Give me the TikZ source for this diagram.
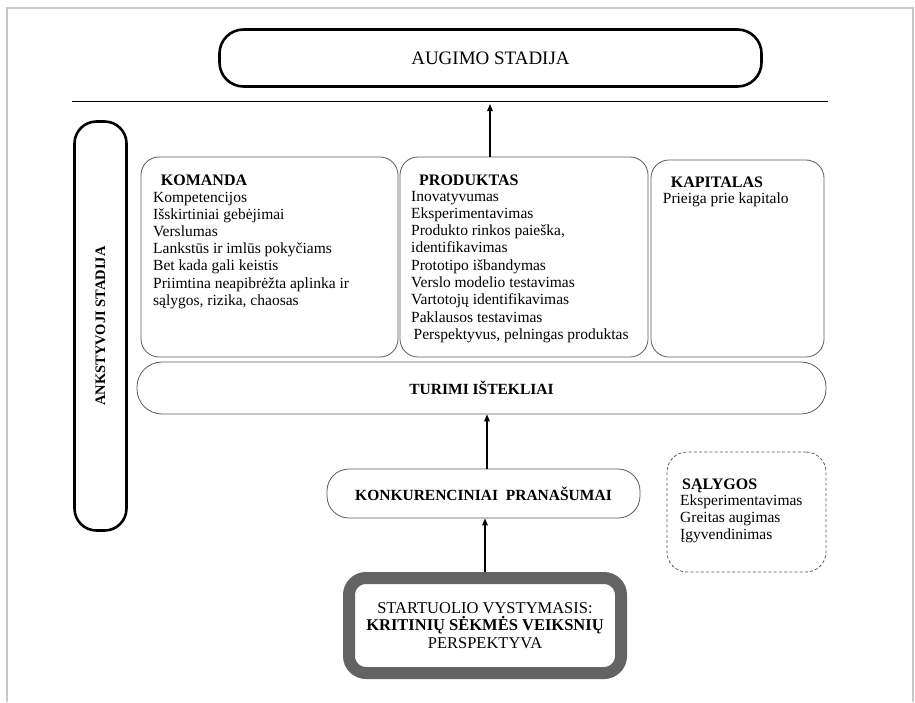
\documentclass[tikz,border=0pt]{standalone}
\usepackage{fontspec}
\setmainfont{Liberation Serif}
\usetikzlibrary{arrows.meta}
\definecolor{cardline}{HTML}{5A5A5A}
\definecolor{thickgray}{HTML}{636363}
\definecolor{framegray}{HTML}{C8C8C8}
\begin{document}
\begin{tikzpicture}[x=1pt,y=-1pt,
  stage/.style={draw=black, line width=2.6pt, rounded corners=24pt, inner sep=0pt},
  card/.style={draw=cardline, line width=0.8pt, rounded corners=18pt, inner sep=0pt},
  body/.style={anchor=base west, inner sep=0pt, font=\fontsize{15.5}{17.3}\selectfont},
  head/.style={anchor=base west, inner sep=0pt, font=\fontsize{16}{18}\selectfont\bfseries},
  boldlabel/.style={font=\fontsize{15.5}{17.3}\selectfont\bfseries},
  arr/.style={-{Triangle[length=7pt,width=5.5pt]}, line width=1.3pt},
  frame/.style={draw=framegray, line width=1.5pt}
]
\useasboundingbox (0,0) rectangle (915,702);
% page frame, open at the bottom
\draw[frame] (7,702) -- (7,8) -- (913,8) -- (913,702);

% growth stage and divider
\node[stage, minimum width=542pt, minimum height=57pt,
      font=\fontsize{19}{21}\selectfont] (grow) at (490.5,58) {AUGIMO STADIJA};
\coordinate (divL) at (72,101);
\coordinate (divR) at (828,101);
\draw[line width=0.8pt] (divL) -- (divR);

% early stage column
\node[stage, rotate=90, rounded corners=22pt, minimum width=409pt, minimum height=52pt,
      font=\fontsize{14.5}{16}\selectfont\bfseries] (early) at (100.5,326) {ANKSTYVOJI STADIJA};

% resource cards
\node[card, minimum width=257pt, minimum height=200pt] (team) at (269.5,257) {};
\node[card, minimum width=248pt, minimum height=200pt] (prod) at (524,257) {};
\node[card, minimum width=173pt, minimum height=197pt] (cap) at (737.5,258.5) {};

\node[head] (team-h) at (160.7,185) {KOMANDA};
\foreach \t [count=\i from 0] in {Kompetencijos, Išskirtiniai gebėjimai, Verslumas,
    Lankstūs ir imlūs pokyčiams, Bet kada gali keistis,
    Priimtina neapibrėžta aplinka ir, {sąlygos, rizika, chaosas}}
  \node[body] (team-\i) at (153,{202+17.2*\i}) {\t};

\node[head] (prod-h) at (419,185) {PRODUKTAS};
\foreach \t [count=\i from 0] in {Inovatyvumas, Eksperimentavimas, {Produkto rinkos paieška,},
    identifikavimas, Prototipo išbandymas, Verslo modelio testavimas,
    Vartotojų identifikavimas, Paklausos testavimas}
  \node[body] (prod-\i) at (411,{201+17.3*\i}) {\t};
\node[body] (prod-8) at (413.5,339.4) {Perspektyvus, pelningas produktas};

\node[head] (cap-h) at (670.7,187.3) {KAPITALAS};
\node[body] (cap-0) at (662.7,203.3) {Prieiga prie kapitalo};

% available resources
\node[card, rounded corners=25pt, minimum width=689pt, minimum height=52pt, boldlabel]
  (res) at (481.5,388) {TURIMI IŠTEKLIAI};

% competitive advantages
\node[card, rounded corners=22pt, minimum width=313pt, minimum height=49pt, boldlabel]
  (adv) at (483.5,493.5) {KONKURENCINIAI\ \ PRANAŠUMAI};

% conditions
\node[card, dashed, dash pattern=on 3pt off 2.2pt, rounded corners=20pt,
      minimum width=159pt, minimum height=120pt] (cond) at (746.5,512) {};
\node[head] (cond-h) at (682,489) {SĄLYGOS};
\foreach \t [count=\i from 0] in {Eksperimentavimas, Greitas augimas, Įgyvendinimas}
  \node[body] (cond-\i) at (680,{505.7+16.7*\i}) {\t};

% startup development
\node[draw=thickgray, line width=12pt, rounded corners=17pt, inner sep=0pt,
      minimum width=272pt, minimum height=95pt, align=center,
      font=\fontsize{16.5}{17.8}\selectfont] (start) at (485,625.5)
  {STARTUOLIO VYSTYMASIS:\\ \textbf{KRITINIŲ SĖKMĖS VEIKSNIŲ}\\ PERSPEKTYVA};

% connectors
\coordinate (tip1) at (490,104);
\draw[arr] (tip1 |- prod.north) -- (tip1);
\draw[arr] ([xshift=3.5pt]adv.north) -- ([xshift=3.5pt]adv.north |- res.south);
\draw[arr] (start.north) -- (start.north |- adv.south);
\end{tikzpicture}
\end{document}
